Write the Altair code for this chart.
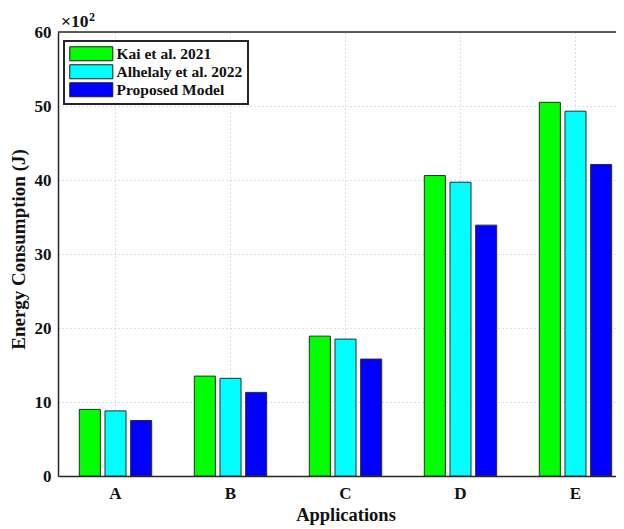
import altair as alt
import pandas as pd

apps = ["A", "B", "C", "D", "E"]
series = ["Kai et al. 2021", "Alhelaly et al. 2022", "Proposed Model"]
kai = [9.0, 13.5, 18.9, 40.6, 50.5]
alhelaly = [8.8, 13.2, 18.5, 39.7, 49.3]
proposed = [7.5, 11.3, 15.8, 33.9, 42.1]
colors = ["#00ff00", "#00ffff", "#0000ff"]
y_ticks = [0, 10, 20, 30, 40, 50, 60]

rows = []
for i, a in enumerate(apps):
    for s, vals in zip(series, [kai, alhelaly, proposed]):
        rows.append({"Application": a, "Series": s, "Energy": vals[i]})
df = pd.DataFrame(rows)

FONT = "Liberation Serif"
W, H = 558, 444
XRANGE = 575

bars = alt.Chart(df).mark_bar(stroke="#2b2b2b", strokeWidth=1, opacity=1).encode(
    x=alt.X(
        "Application:N", sort=apps,
        scale=alt.Scale(range=[0, XRANGE], paddingInner=0, paddingOuter=0),
        axis=alt.Axis(title="Applications", labelAngle=0, bandPosition=0.5, grid=True,
                      ticks=False, tickSize=0, labelPadding=9, titlePadding=4,
                      titleX=XRANGE / 2, labelFontSize=17, titleFontSize=18.5),
    ),
    xOffset=alt.XOffset("Series:N", sort=series,
                        scale=alt.Scale(paddingInner=0.18, paddingOuter=0.83)),
    y=alt.Y(
        "Energy:Q",
        scale=alt.Scale(domain=[0, 60]),
        axis=alt.Axis(values=y_ticks, title="Energy Consumption (J)", ticks=False, tickSize=0,
                      labelPadding=7, titlePadding=6, titleY=217,
                      labelFontSize=17, titleFontSize=19),
    ),
    color=alt.Color(
        "Series:N", sort=series,
        scale=alt.Scale(domain=series, range=colors),
        legend=alt.Legend(
            title=None, orient="none", legendX=6, legendY=9,
            symbolType="M-1,-1L5.15,-1L5.15,1L-1,1Z", symbolSize=196,
            symbolStrokeColor="#1a1a1a", symbolStrokeWidth=1, symbolOpacity=1,
            labelOffset=32, rowPadding=-1, padding=5,
            fillColor="white", strokeColor="#262626",
            labelFont=FONT, labelFontSize=15.5, labelFontWeight="bold", labelColor="#111111",
        ),
    ),
)

top_border = alt.Chart(pd.DataFrame({"k": [0]})).mark_rule(
    color="#262626", strokeWidth=1.5
).encode(x=alt.value(0), x2=alt.value(XRANGE), y=alt.value(0))

exp_base = alt.Chart(pd.DataFrame({"t": ["×10"]})).mark_text(
    align="left", baseline="alphabetic", font=FONT, fontSize=17.5, fontWeight="bold", color="#111111"
).encode(text="t:N", x=alt.value(3), y=alt.value(-5))

exp_sup = alt.Chart(pd.DataFrame({"t": ["2"]})).mark_text(
    align="left", baseline="alphabetic", font=FONT, fontSize=12, fontWeight="bold", color="#111111"
).encode(text="t:N", x=alt.value(31), y=alt.value(-11.5))

chart = alt.layer(bars, top_border, exp_base, exp_sup).properties(
    width=W, height=H,
    autosize=alt.AutoSizeParams(type="none"),
    padding={"left": 50, "top": 24, "right": 0, "bottom": 53},
).configure_view(stroke=None).configure_axis(
    labelFont=FONT, titleFont=FONT, labelFontWeight="bold", titleFontWeight="bold",
    labelColor="#111111", titleColor="#111111",
    domainColor="#262626", domainWidth=1.5,
    gridColor="#d2d2f4", gridDash=[1.5, 2.5], gridWidth=1,
).configure_legend(strokeWidth=2)

chart.save("out.html", embed_options={"renderer": "svg", "actions": False})
